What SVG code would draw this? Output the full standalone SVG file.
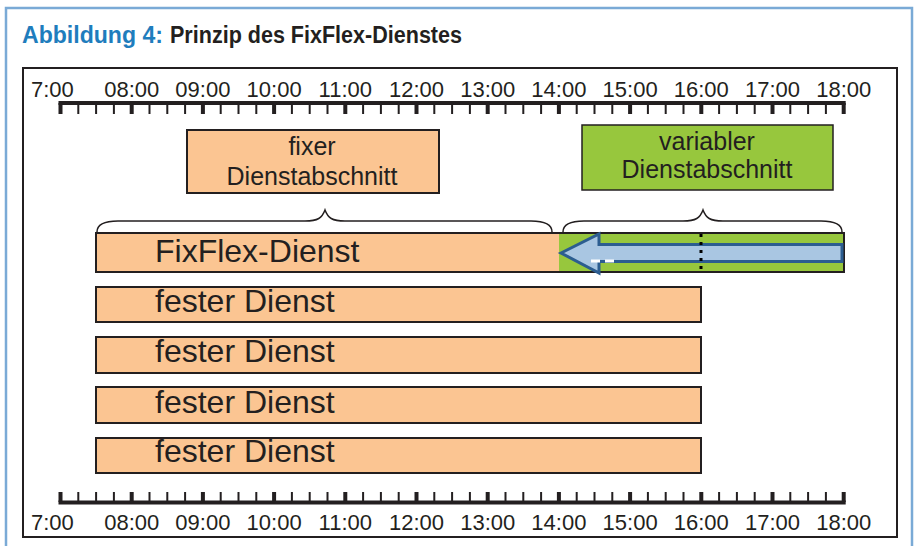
<svg xmlns="http://www.w3.org/2000/svg" width="917" height="546" viewBox="0 0 917 546">
  <style>
    .lbl { font-family: "Liberation Sans", Arial, sans-serif; fill: #231f20; }
    .axis-t { font-size: 22px; text-anchor: middle; }
    .box-t { font-size: 25px; text-anchor: middle; }
    .bar-t { font-size: 32px; }
    .peach { fill: #fbc592; stroke: #231f20; stroke-width: 2; }
    .green { fill: #97c73d; stroke: #231f20; stroke-width: 1.5; }
    .brace { fill: none; stroke: #231f20; stroke-width: 1.5; }
    .tick { fill: none; stroke: #231f20; stroke-width: 2; }
    .tick-h { fill: none; stroke: #231f20; stroke-width: 4; }
    .axis-line { fill: none; stroke: #231f20; stroke-width: 4; }
  </style>

  <rect width="917" height="546" fill="#ffffff"/>

  <!-- outer caption frame -->
  <rect x="6" y="8" width="906" height="580" fill="none" stroke="#7aaad6" stroke-width="2.5"/>
  <text x="22" y="43" style="font-family:'Liberation Sans', Arial, sans-serif; font-size:23px; font-weight:bold;">
    <tspan fill="#1f7dbd" textLength="141" lengthAdjust="spacingAndGlyphs">Abbildung 4:</tspan><tspan fill="#231f20" x="170" textLength="292" lengthAdjust="spacingAndGlyphs">Prinzip des FixFlex-Dienstes</tspan>
  </text>

  <!-- chart frame -->
  <rect x="23" y="68" width="874" height="469" fill="#ffffff" stroke="#231f20" stroke-width="2"/>

  <!-- top time axis -->
  <g id="axis-top">
    <line class="axis-line" x1="58.5" y1="103" x2="845.7" y2="103"/>
    <path class="tick" d="M78.3,103V114M96.1,103V114M113.9,103V114M149.5,103V114M167.3,103V114M185.1,103V114M220.7,103V114M238.5,103V114M256.3,103V114M291.9,103V114M309.7,103V114M327.5,103V114M363.1,103V114M380.9,103V114M398.7,103V114M434.3,103V114M452.1,103V114M469.9,103V114M505.5,103V114M523.3,103V114M541.1,103V114M576.7,103V114M594.5,103V114M612.3,103V114M647.9,103V114M665.7,103V114M683.5,103V114M719.1,103V114M736.9,103V114M754.7,103V114M790.3,103V114M808.1,103V114M825.9,103V114"/>
    <path class="tick-h" d="M60.5,103V114M131.7,103V114M202.9,103V114M274.1,103V114M345.3,103V114M416.5,103V114M487.7,103V114M558.9,103V114M630.1,103V114M701.3,103V114M772.5,103V114M843.7,103V114"/>
    <text class="lbl" x="31" y="97" style="font-size:22px">7:00</text>
    <g class="lbl axis-t">
      <text x="131.7" y="97">08:00</text>
      <text x="202.9" y="97">09:00</text>
      <text x="274.1" y="97">10:00</text>
      <text x="345.3" y="97">11:00</text>
      <text x="416.5" y="97">12:00</text>
      <text x="487.7" y="97">13:00</text>
      <text x="558.9" y="97">14:00</text>
      <text x="630.1" y="97">15:00</text>
      <text x="701.3" y="97">16:00</text>
      <text x="772.5" y="97">17:00</text>
      <text x="843.7" y="97">18:00</text>
    </g>
  </g>

  <!-- bottom time axis -->
  <g id="axis-bottom">
    <line class="axis-line" x1="58.5" y1="502.5" x2="845.7" y2="502.5"/>
    <path class="tick" d="M78.3,492V502M96.1,492V502M113.9,492V502M149.5,492V502M167.3,492V502M185.1,492V502M220.7,492V502M238.5,492V502M256.3,492V502M291.9,492V502M309.7,492V502M327.5,492V502M363.1,492V502M380.9,492V502M398.7,492V502M434.3,492V502M452.1,492V502M469.9,492V502M505.5,492V502M523.3,492V502M541.1,492V502M576.7,492V502M594.5,492V502M612.3,492V502M647.9,492V502M665.7,492V502M683.5,492V502M719.1,492V502M736.9,492V502M754.7,492V502M790.3,492V502M808.1,492V502M825.9,492V502"/>
    <path class="tick-h" d="M60.5,492V502M131.7,492V502M202.9,492V502M274.1,492V502M345.3,492V502M416.5,492V502M487.7,492V502M558.9,492V502M630.1,492V502M701.3,492V502M772.5,492V502M843.7,492V502"/>
    <text class="lbl" x="31" y="530" style="font-size:22px">7:00</text>
    <g class="lbl axis-t">
      <text x="131.7" y="530">08:00</text>
      <text x="202.9" y="530">09:00</text>
      <text x="274.1" y="530">10:00</text>
      <text x="345.3" y="530">11:00</text>
      <text x="416.5" y="530">12:00</text>
      <text x="487.7" y="530">13:00</text>
      <text x="558.9" y="530">14:00</text>
      <text x="630.1" y="530">15:00</text>
      <text x="701.3" y="530">16:00</text>
      <text x="772.5" y="530">17:00</text>
      <text x="843.7" y="530">18:00</text>
    </g>
  </g>

  <!-- section labels -->
  <g id="fixed-section">
    <rect class="peach" x="187" y="130" width="252" height="63" stroke-width="1.5"/>
    <text class="lbl box-t" x="312" y="155">fixer</text>
    <text class="lbl box-t" x="312" y="185">Dienstabschnitt</text>
  </g>
  <g id="variable-section">
    <rect class="green" x="582" y="125" width="251" height="65"/>
    <text class="lbl box-t" x="707" y="150">variabler</text>
    <text class="lbl box-t" x="707" y="178">Dienstabschnitt</text>
  </g>

  <!-- braces over the two parts of the FixFlex shift -->
  <g id="braces">
    <path class="brace" d="M97,232 C97,224 104,221 118,221 L305,221 C318,221 322,218 325,210 C328,218 332,221 345,221 L531,221 C545,221 552,224 552,232"/>
    <path class="brace" d="M563,232 C563,224 570,221 584,221 L683,221 C696,221 700,218 703,210 C706,218 710,221 723,221 L821,221 C835,221 842,224 842,232"/>
  </g>

  <!-- FixFlex shift: fixed part plus variable part -->
  <g id="fixflex">
    <rect x="96" y="233" width="463" height="39" fill="#fbc592"/>
    <rect x="559" y="233" width="285" height="39" fill="#97c73d"/>
    <rect x="96" y="233" width="748" height="39" fill="none" stroke="#231f20" stroke-width="2"/>
    <text class="lbl bar-t" x="155" y="262">FixFlex-Dienst</text>
    <polygon points="561,253 599,234 599,244.5 842,244.5 842,261.5 599,261.5 599,273" fill="#a9c6e2" stroke="#2c5d90" stroke-width="3" stroke-linejoin="miter"/>
    <line x1="591" y1="261" x2="616" y2="261" stroke="#ffffff" stroke-width="3" stroke-dasharray="9,5"/>
    <line x1="701" y1="234" x2="701" y2="272" stroke="#000000" stroke-width="3" stroke-dasharray="3,5"/>
  </g>

  <!-- fixed shifts -->
  <g id="fixed-1">
    <rect class="peach" x="96" y="287" width="605" height="35"/>
    <text class="lbl bar-t" x="155" y="312">fester Dienst</text>
  </g>
  <g id="fixed-2">
    <rect class="peach" x="96" y="337" width="605" height="36"/>
    <text class="lbl bar-t" x="155" y="362">fester Dienst</text>
  </g>
  <g id="fixed-3">
    <rect class="peach" x="96" y="387" width="605" height="36"/>
    <text class="lbl bar-t" x="155" y="412.5">fester Dienst</text>
  </g>
  <g id="fixed-4">
    <rect class="peach" x="96" y="438" width="605" height="35"/>
    <text class="lbl bar-t" x="155" y="462">fester Dienst</text>
  </g>
</svg>
